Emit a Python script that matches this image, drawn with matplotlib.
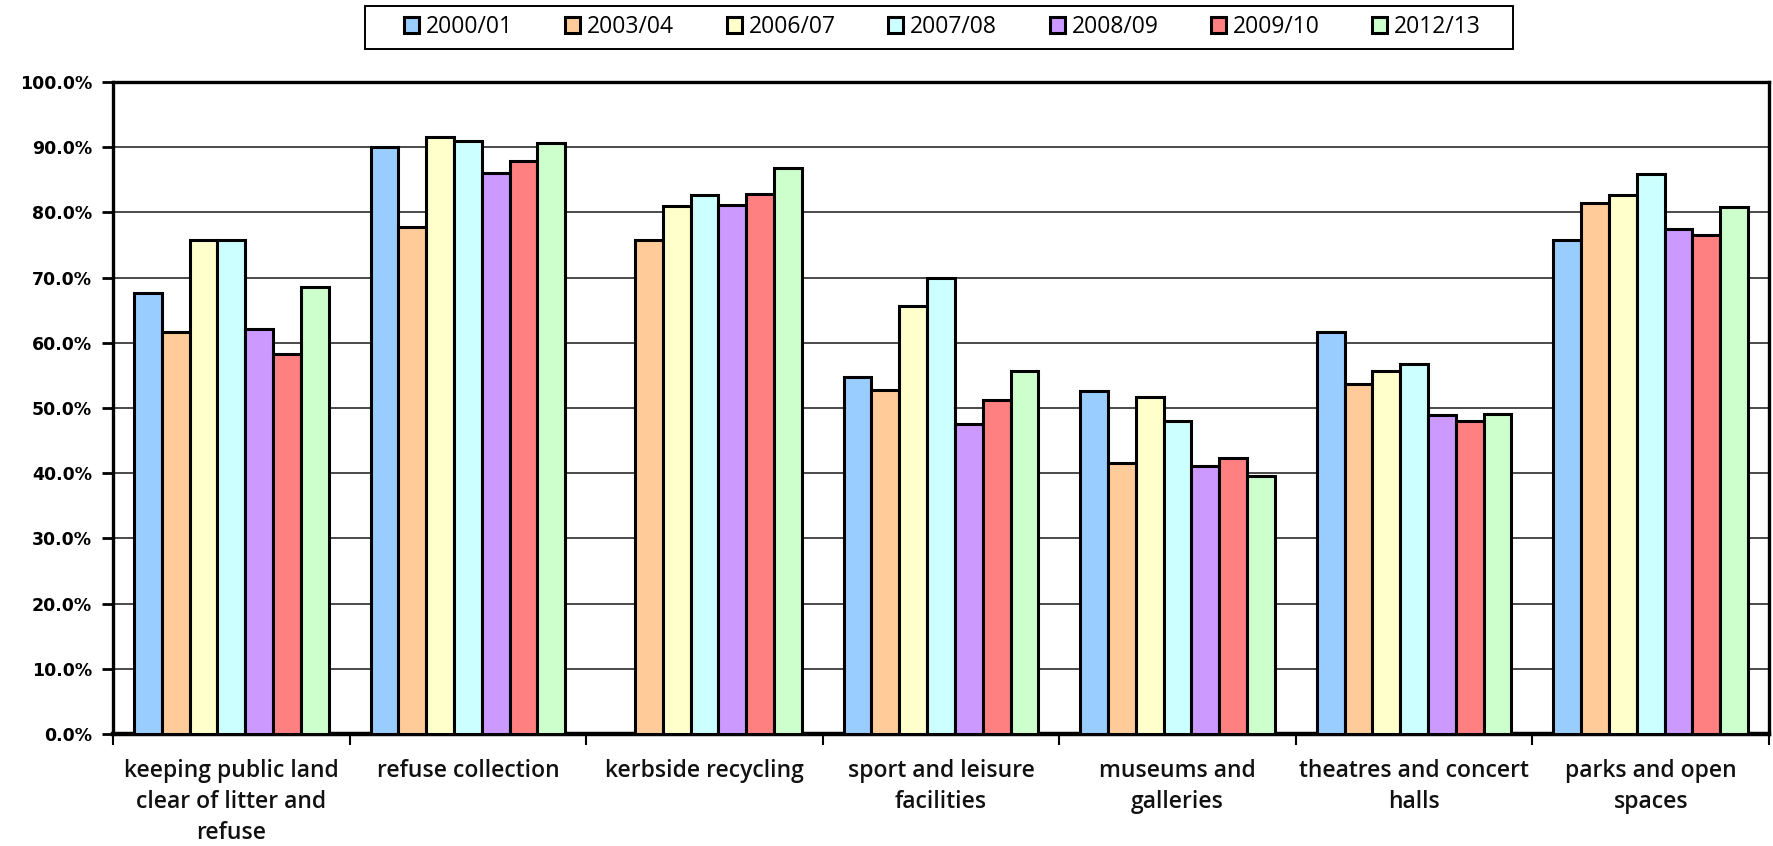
import numpy as np
import matplotlib
matplotlib.use("Agg")
import matplotlib.pyplot as plt
from matplotlib.ticker import FuncFormatter, FixedLocator
from matplotlib.patches import Rectangle

categories = [
    "keeping public land\nclear of litter and\nrefuse",
    "refuse collection",
    "kerbside recycling",
    "sport and leisure\nfacilities",
    "museums and\ngalleries",
    "theatres and concert\nhalls",
    "parks and open\nspaces",
]
years = ["2000/01", "2003/04", "2006/07", "2007/08", "2008/09", "2009/10", "2012/13"]

# satisfaction (%) per year, one value per service category
v2000_01 = [67.7, 90.0, np.nan, 54.7, 52.6, 61.6, 75.8]
v2003_04 = [61.7, 77.7, 75.8, 52.7, 41.6, 53.7, 81.5]
v2006_07 = [75.8, 91.6, 81.0, 65.7, 51.7, 55.7, 82.6]
v2007_08 = [75.8, 91.0, 82.6, 69.9, 48.0, 56.7, 85.9]
v2008_09 = [62.1, 86.0, 81.2, 47.5, 41.1, 49.0, 77.5]
v2009_10 = [58.3, 87.9, 82.8, 51.3, 42.4, 48.0, 76.6]
v2012_13 = [68.5, 90.6, 86.8, 55.7, 39.5, 49.1, 80.8]
series = [v2000_01, v2003_04, v2006_07, v2007_08, v2008_09, v2009_10, v2012_13]

colors = ["#99CCFF", "#FFCC99", "#FFFFCC", "#CCFFFF", "#CC99FF", "#FF8080", "#CCFFCC"]

W, H = 1773, 846
fig = plt.figure(figsize=(W / 100, H / 100), dpi=100)
ax = fig.add_axes([113 / W, 1 - 734 / H, (1769 - 113) / W, (734 - 82) / H])

x = np.arange(len(categories))
w = 0.823 / len(series)
handles = []
for i, (vals, c, lab) in enumerate(zip(series, colors, years)):
    b = ax.bar(x + (i - 3) * w, vals, width=w, color=c, edgecolor="black",
               linewidth=2.2, label=lab, zorder=3)
    handles.append(b)

ax.set_xlim(-0.5, len(categories) - 0.5)
ax.set_ylim(0, 100)

ax.yaxis.set_major_locator(FixedLocator(np.arange(0, 101, 10)))
ax.yaxis.set_major_formatter(FuncFormatter(lambda v, p: f"{v:.1f}%"))
ax.grid(axis="y", color="#4a4a4a", linewidth=1.4, zorder=0)
ax.set_axisbelow(True)

for lbl in ax.get_yticklabels():
    lbl.set_fontfamily("DejaVu Sans")
    lbl.set_fontweight("bold")
    lbl.set_fontsize(12.5)
    lbl.set_color("#1a1a1a")
ax.tick_params(axis="y", direction="out", length=8, width=2, pad=7, colors="black")

# category boundary ticks on the x axis, labels centred between them
ax.xaxis.set_major_locator(FixedLocator(np.arange(-0.5, len(categories), 1.0)))
ax.xaxis.set_major_formatter(FuncFormatter(lambda v, p: ""))
ax.tick_params(axis="x", which="major", direction="out", length=8, width=1.5)
ax.set_xticks(x, minor=True)
ax.set_xticklabels(categories, minor=True, fontsize=16.5, family="Open Sans",
                   fontweight="semibold", linespacing=1.38, color="#111111")
ax.tick_params(axis="x", which="minor", length=0, pad=18)

for s in ["left", "top", "right"]:
    ax.spines[s].set_linewidth(2.4)
    ax.spines[s].set_color("black")
ax.spines["bottom"].set_linewidth(3.2)

# legend row with a plain rectangular frame
leg = fig.legend(handles=handles, labels=years, loc="center",
                 bbox_to_anchor=(942.5 / W, 1 - 27 / H), ncol=7, frameon=False,
                 handlelength=0.65, handleheight=0.65, handletextpad=0.3,
                 columnspacing=2.3, borderpad=0.2,
                 prop={"family": "Open Sans", "size": 16.5})
fig.patches.append(Rectangle((365 / W, 1 - 49 / H), (1513 - 365) / W, 43 / H,
                             transform=fig.transFigure, fill=False,
                             edgecolor="black", linewidth=1.4))

fig.savefig("out.png", dpi=100)
